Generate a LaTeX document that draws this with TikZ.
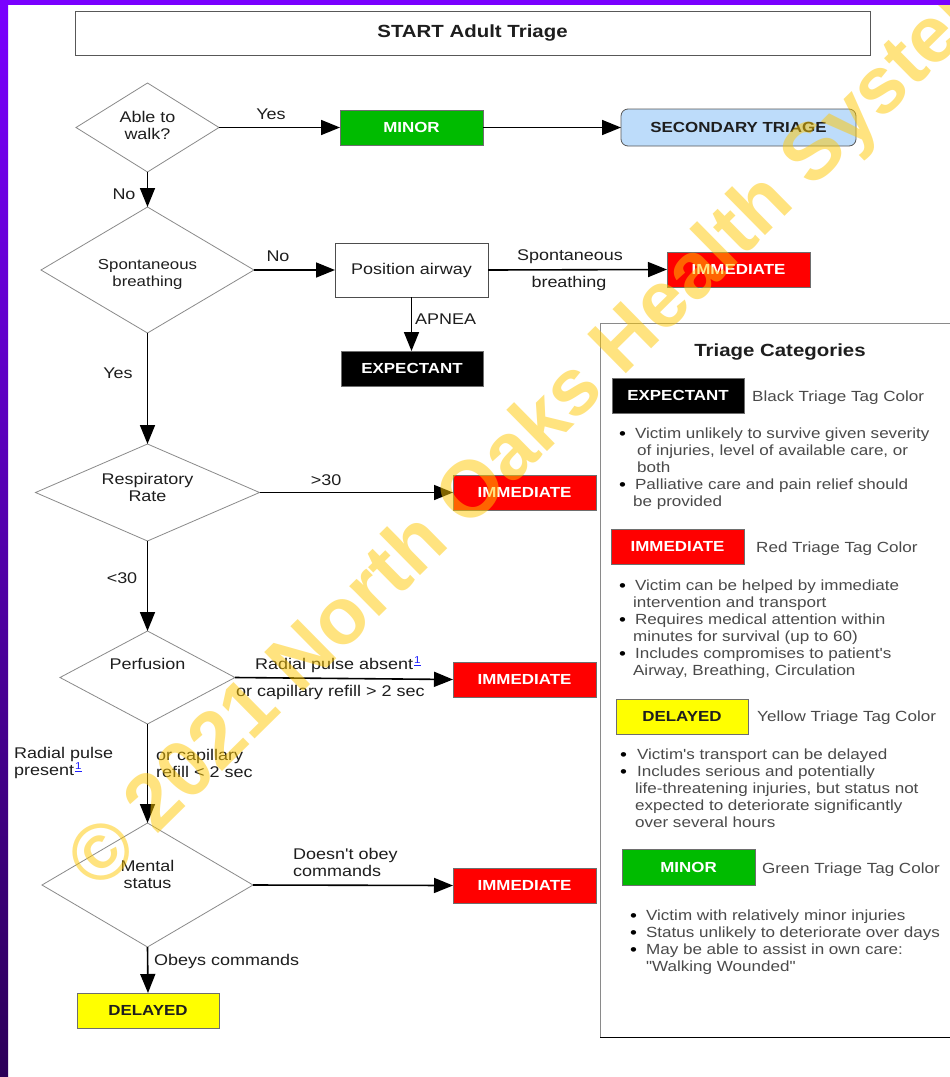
\documentclass[tikz,border=0pt]{standalone}
\usepackage{fontspec}
\setmainfont{Liberation Sans}[FakeStretch=1.16, Ligatures=TeXOff]
\newfontfamily\wmfont{Liberation Sans}
\usetikzlibrary{shapes.geometric,arrows.meta}
\definecolor{txt}{HTML}{1E1E1E}
\definecolor{ptxt}{HTML}{4A4A4A}
\definecolor{tred}{HTML}{FF0000}
\definecolor{tgreen}{HTML}{00BB00}
\definecolor{tyellow}{HTML}{FFFF00}
\definecolor{tblue}{HTML}{BDDCFA}
\definecolor{bord}{HTML}{6E6E6E}
\definecolor{dbord}{HTML}{8A8A8A}
\definecolor{wm}{RGB}{255,200,0}
\definecolor{purA}{HTML}{7A00FF}
\definecolor{purB}{HTML}{2C0058}
\definecolor{lnk}{HTML}{2020FF}
\newcommand\fsN{\fontsize{15.5}{17}\selectfont}
\newcommand\fsP{\fontsize{14.7}{17}\selectfont}
\newcommand\fsT{\fontsize{14.6}{17}\selectfont\bfseries}
\newcommand\fsH{\fontsize{17.6}{20}\selectfont\bfseries}
\newcommand\supone{\hspace{1pt}{\color{lnk}\fontsize{10}{10}\selectfont\raisebox{6pt}{\underline{1}}}}
\newcommand\bul{{\color{black}\raisebox{-1pt}{\fontsize{17}{17}\selectfont\textbullet}}}
\tikzset{
  diam/.style={diamond, draw=dbord, line width=0.8pt, inner sep=0pt, outer sep=0pt},
  tag/.style={rectangle, draw=bord, line width=0.8pt, minimum width=143pt, minimum height=35pt, inner sep=0pt, outer sep=0pt, font=\fsT},
  lbl/.style={inner sep=0pt, text=txt, font=\fsN, align=center},
  ptx/.style={inner sep=0pt, text=ptxt, font=\fsP},
  arr/.style={draw=black, line width=1.6pt, -{Triangle[length=19pt,width=15pt]}}
}
\begin{document}
\begin{tikzpicture}[x=1pt,y=-1pt]
\clip (0,0) rectangle (950,1077);
\fill[white] (0,0) rectangle (950,1077);

% title
\node[draw=bord!80!black, line width=1pt, minimum width=795pt, minimum height=44pt, inner sep=0pt, font=\fsH, text=txt] (title) at (472.5,33) {START Adult Triage};

% decisions
\node[diam, minimum width=143pt, minimum height=89pt] (walk) at (147.5,127.5) {};
\node[lbl] (walkT) at (147.5,125) {Able to\\walk?};
\node[diam, minimum width=213pt, minimum height=126pt] (spont) at (147.5,270) {};
\node[lbl, font=\fontsize{14.5}{17}\selectfont] (spontT) at (147.5,274) {Spontaneous\\breathing};
\node[diam, minimum width=224pt, minimum height=97pt] (resp) at (147.5,492.5) {};
\node[lbl] (respT) at (147.5,487.5) {Respiratory\\Rate};
\node[diam, minimum width=175pt, minimum height=93pt] (perf) at (147.5,677.5) {};
\node[lbl] (perfT) at (147.5,664) {Perfusion};
\node[diam, minimum width=211pt, minimum height=124pt] (ment) at (147.5,885) {};
\node[lbl] (mentT) at (147.5,874) {Mental\\status};

% boxes
\node[tag, fill=tgreen, text=white] (minor) at (411.5,127.5) {MINOR};
\node[tag, fill=tblue, draw=bord!80!black, rounded corners=7pt, minimum width=235pt, minimum height=37pt, text=txt] (sec) at (738.5,127.5) {SECONDARY TRIAGE};
\node[draw=bord!70!black, line width=0.9pt, minimum width=153pt, minimum height=54pt, inner sep=0pt, outer sep=0pt, font=\fsN, text=txt] (pos) at (411.5,270) {Position airway};
\node[tag, fill=tred, text=white] (imm1) at (738.5,269.5) {IMMEDIATE};
\node[tag, fill=black, minimum width=142pt, text=white] (exp) at (412,368.5) {EXPECTANT};
\node[tag, fill=tred, text=white] (imm2) at (524.5,492.5) {IMMEDIATE};
\node[tag, fill=tred, text=white] (imm3) at (524.5,679.5) {IMMEDIATE};
\node[tag, fill=tred, text=white] (imm4) at (524.5,885.5) {IMMEDIATE};
\node[tag, fill=tyellow, minimum width=142pt, text=txt] (del) at (148,1010.5) {DELAYED};

% arrows
\draw[arr] (walk.east) -- (minor.west);
\draw[arr] (minor.east) -- (sec.west);
\draw[arr] (walk.south) -- (spont.north);
\draw[arr] (spont.east) -- (pos.west);
\draw[arr] (pos.east) -- (imm1.west);
\draw[arr] (pos.south) -- (pos.south |- exp.north);
\draw[arr] (spont.south) -- (resp.north);
\draw[arr] (resp.east) -- (imm2.west);
\draw[arr] (resp.south) -- (perf.north);
\draw[arr] (perf.east) -- (imm3.west);
\draw[arr] (perf.south) -- (ment.north);
\draw[arr] (ment.east) -- (imm4.west);
\draw[arr] (ment.south) -- (del.north);

% edge labels
\node[lbl] (lYes1) at (271,114) {Yes};
\node[lbl] (lNo1) at (124,194) {No};
\node[lbl] (lNo2) at (278,256) {No};
\node[lbl] (lSp) at (570,257) {Spontaneous};
\node[lbl] (lBr) at (569,283) {breathing};
\node[lbl, anchor=west] (lAp) at (415,319) {APNEA};
\node[lbl] (lYes2) at (118,373) {Yes};
\node[lbl] (lGt) at (326,480) {>30};
\node[lbl] (lLt) at (122,578) {<30};
\node[lbl, anchor=west] (lRa) at (255,665) {Radial pulse absent\supone};
\node[lbl, anchor=west] (lCa) at (236,692) {or capillary refill > 2 sec};
\node[lbl, anchor=west, align=left] (lRp) at (14,763) {Radial pulse\\present\supone};
\node[lbl, anchor=west, align=left] (lCr) at (156,763) {or capillary\\refill < 2 sec};
\node[lbl, anchor=west, align=left] (lDo) at (293,862) {Doesn't obey\\commands};
\node[lbl, anchor=west] (lOb) at (154,961) {Obeys commands};

% legend panel
\node[draw=dbord, line width=0.9pt, minimum width=360pt, minimum height=714pt, inner sep=0pt, anchor=north west] (panel) at (600,323) {};
\draw[black, line width=1.1pt] (panel.south west) -- (panel.south east);
\node[font=\fsH, text=txt, inner sep=0pt] (pcat) at (780,352) {Triage Categories};

\node[tag, fill=black, text=white, minimum width=132pt] (lgExp) at (678,395.5) {EXPECTANT};
\node[ptx, anchor=west] (dExp) at (752,398) {Black Triage Tag Color};
\node[ptx, anchor=base west] (bExp) at (619,438) {\begin{tabular}[t]{@{}l@{\hspace{9pt}}l@{}}
\bul & Victim unlikely to survive given severity\\
 & \hspace{2pt}of injuries, level of available care, or\\
 & \hspace{2pt}both\\
\bul & Palliative care and pain relief should\\
 & \hspace{-2pt}be provided
\end{tabular}};

\node[tag, fill=tred, text=white, minimum width=133pt] (lgImm) at (677.5,546.5) {IMMEDIATE};
\node[ptx, anchor=west] (dImm) at (756,549) {Red Triage Tag Color};
\node[ptx, anchor=base west] (bImm) at (619,590) {\begin{tabular}[t]{@{}l@{\hspace{9pt}}l@{}}
\bul & Victim can be helped by immediate\\
 & \hspace{-2pt}intervention and transport\\
\bul & Requires medical attention within\\
 & \hspace{-2pt}minutes for survival (up to 60)\\
\bul & Includes compromises to patient's\\
 & \hspace{-2pt}Airway, Breathing, Circulation
\end{tabular}};

\node[tag, fill=tyellow, text=txt, minimum width=132pt] (lgDel) at (682,716.5) {DELAYED};
\node[ptx, anchor=west] (dDel) at (757,718) {Yellow Triage Tag Color};
\node[ptx, anchor=base west] (bDel) at (620,759) {\begin{tabular}[t]{@{}l@{\hspace{10pt}}l@{}}
\bul & Victim's transport can be delayed\\
\bul & Includes serious and potentially\\
 & \hspace{-2pt}life-threatening injuries, but status not\\
 & \hspace{-2pt}expected to deteriorate significantly\\
 & \hspace{-2pt}over several hours
\end{tabular}};

\node[tag, fill=tgreen, text=white, minimum width=133pt, minimum height=36pt] (lgMin) at (688.5,867) {MINOR};
\node[ptx, anchor=west] (dMin) at (762,870) {Green Triage Tag Color};
\node[ptx, anchor=base west] (bMin) at (630,920) {\begin{tabular}[t]{@{}l@{\hspace{9pt}}l@{}}
\bul & Victim with relatively minor injuries\\
\bul & Status unlikely to deteriorate over days\\
\bul & May be able to assist in own care:\\
 & "Walking Wounded"
\end{tabular}};

% watermark
\node[font=\wmfont\bfseries\fontsize{80}{80}\selectfont, text=wm, text opacity=0.5, rotate=44.6, anchor=base west, inner sep=0pt] (wmk) at (99,893) {© 2021 North Oaks Health System};

% purple frame
\shade[top color=purA, bottom color=purB] (0,0) rectangle (8,1077);
\fill[purA] (0,0) rectangle (950,5);
\end{tikzpicture}
\end{document}
